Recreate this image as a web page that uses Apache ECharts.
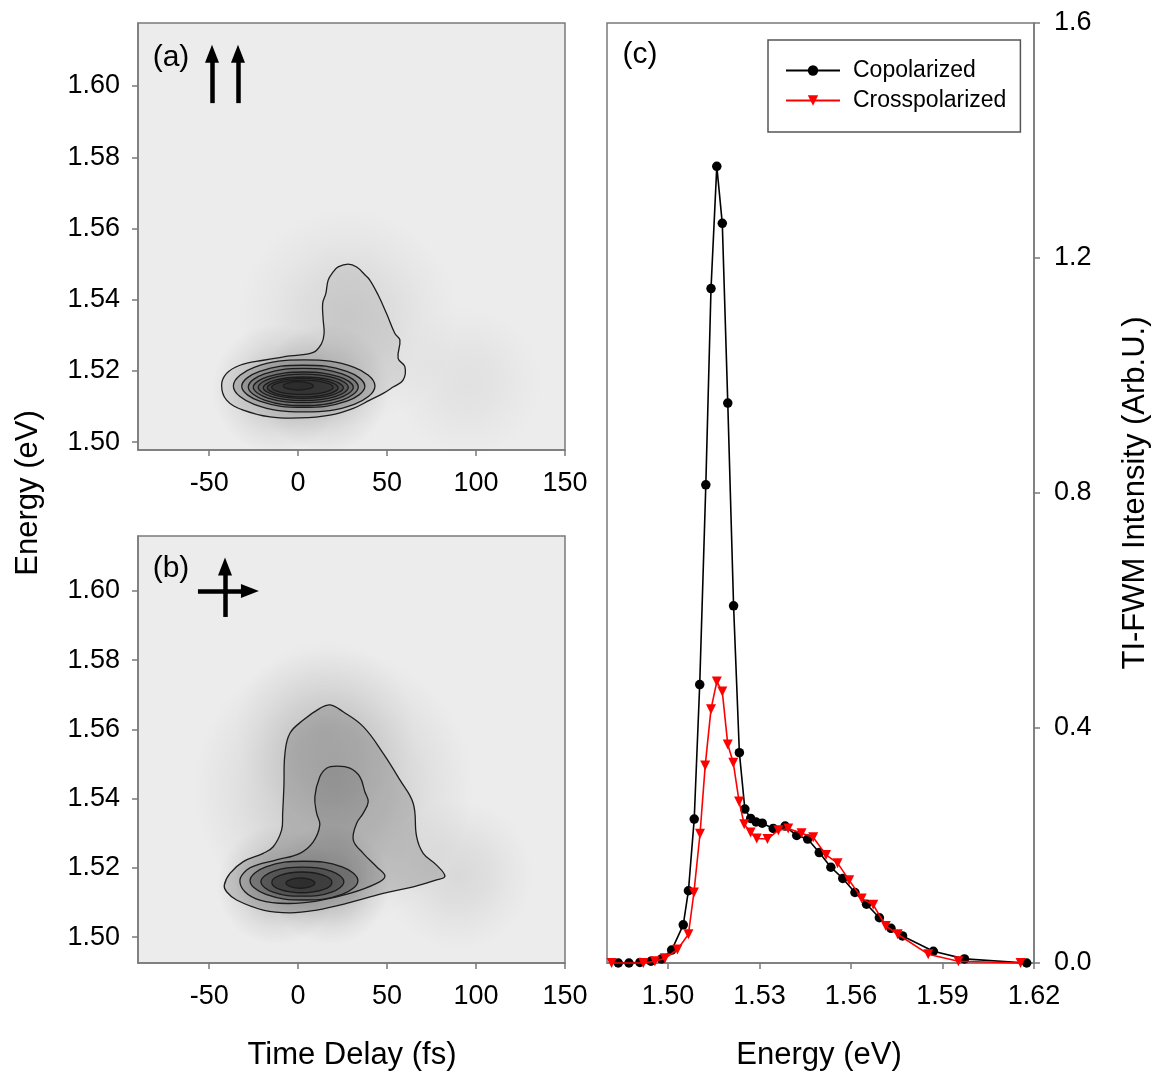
<!DOCTYPE html>
<html><head><meta charset="utf-8">
<script src="https://cdn.jsdelivr.net/npm/echarts@6/dist/echarts.min.js"></script>
<style>html,body{margin:0;padding:0;background:#fff}#c{width:1160px;height:1074px}</style>
</head><body><div id="c"></div>
<script>
// ---------- tick labels ----------
const timeTicks = [-50, 0, 50, 100, 150];
const energyTicks = [1.50, 1.52, 1.54, 1.56, 1.58, 1.60];
const specTicks = [1.50, 1.53, 1.56, 1.59, 1.62];
const intensityTicks = [0, 0.4, 0.8, 1.2, 1.6];

// ---------- panel (c) spectra ----------
const coEnergy = [1.4837,1.4872,1.4908,1.4944,1.4979,1.5012,1.5050,1.5067,1.5086,1.5104,1.5124,1.5141,1.5160,1.5178,1.5196,1.5215,1.5234,1.5252,1.5271,1.5289,1.5309,1.5345,1.5384,1.5422,1.5458,1.5496,1.5534,1.5573,1.5613,1.5651,1.5693,1.5731,1.5769,1.5870,1.5972,1.6176];
const coIntensity = [0,0,0.001,0.003,0.007,0.022,0.065,0.123,0.245,0.474,0.814,1.148,1.356,1.259,0.953,0.608,0.358,0.262,0.246,0.240,0.238,0.229,0.233,0.217,0.211,0.188,0.163,0.144,0.120,0.100,0.077,0.059,0.046,0.020,0.007,0.0];
const crEnergy = [1.4815,1.4919,1.4957,1.4990,1.5031,1.5067,1.5085,1.5105,1.5122,1.5141,1.5160,1.5178,1.5196,1.5214,1.5233,1.5250,1.5271,1.5291,1.5326,1.5362,1.5394,1.5438,1.5476,1.5518,1.5556,1.5594,1.5635,1.5673,1.5714,1.5753,1.5853,1.5952,1.6156];
const crIntensity = [0,0,0.003,0.008,0.023,0.049,0.120,0.220,0.336,0.432,0.479,0.462,0.372,0.341,0.275,0.236,0.222,0.212,0.211,0.226,0.229,0.221,0.214,0.184,0.170,0.141,0.110,0.099,0.063,0.049,0.015,0.003,0];

// ---------- panel (a) contours: [time (fs), energy (eV)] ----------
const aOuter = [[-43.0,1.5160],[-40.2,1.5193],[-32.7,1.5216],[-19.6,1.5230],[-4.6,1.5242],[8.5,1.5252],[13.2,1.5277],[14.6,1.5305],[14.1,1.5343],[13.8,1.5390],[15.6,1.5418],[16.9,1.5455],[19.7,1.5478],[22.5,1.5492],[28.1,1.5500],[32.9,1.5492],[37.5,1.5470],[40.3,1.5455],[45.0,1.5413],[49.7,1.5361],[54.4,1.5305],[57.2,1.5287],[56.2,1.5235],[60.0,1.5212],[59.0,1.5174],[53.4,1.5155],[47.8,1.5137],[40.3,1.5118],[31.0,1.5095],[17.9,1.5076],[1.0,1.5068],[-15.8,1.5071],[-30.8,1.5090],[-40.2,1.5118]];
const aRing1 = [[-36.4,1.5158],[-24.7,1.5210],[3.4,1.5231],[31.5,1.5210],[43.2,1.5158],[31.5,1.5106],[3.4,1.5085],[-24.7,1.5106]];
const aRing2 = [[-31.7,1.5157],[-21.6,1.5199],[2.9,1.5216],[27.4,1.5199],[37.5,1.5157],[27.4,1.5115],[2.9,1.5098],[-21.6,1.5115]];
const aRing3 = [[-28.0,1.5155],[-18.9,1.5192],[2.9,1.5207],[24.7,1.5192],[33.8,1.5155],[24.7,1.5118],[2.9,1.5103],[-18.9,1.5118]];
const aRing4 = [[-25.2,1.5154],[-17.0,1.5184],[2.9,1.5197],[22.8,1.5184],[31.0,1.5154],[22.8,1.5124],[2.9,1.5111],[-17.0,1.5124]];
const aRing5 = [[-22.4,1.5154],[-15.0,1.5180],[2.9,1.5191],[20.8,1.5180],[28.2,1.5154],[20.8,1.5128],[2.9,1.5117],[-15.0,1.5128]];
const aRing6 = [[-19.6,1.5153],[-13.0,1.5174],[2.9,1.5183],[18.8,1.5174],[25.4,1.5153],[18.8,1.5132],[2.9,1.5123],[-13.0,1.5132]];
const aRing7 = [[-17.3,1.5153],[-11.5,1.5171],[2.6,1.5179],[16.7,1.5171],[22.5,1.5153],[16.7,1.5135],[2.6,1.5127],[-11.5,1.5135]];
const aRing8 = [[-14.9,1.5154],[-9.8,1.5168],[2.4,1.5174],[14.6,1.5168],[19.7,1.5154],[14.6,1.5140],[2.4,1.5134],[-9.8,1.5140]];
const aRing9 = [[-8.3,1.5158],[-5.8,1.5166],[0.1,1.5170],[6.0,1.5166],[8.5,1.5158],[6.0,1.5150],[0.1,1.5146],[-5.8,1.5150]];

// ---------- panel (b) contours ----------
const bOuter = [[-41.5,1.5150],[-38.3,1.5184],[-30.8,1.5218],[-19.6,1.5242],[-14.0,1.5261],[-9.3,1.5309],[-8.7,1.5357],[-8.0,1.5434],[-7.4,1.5531],[-4.6,1.5589],[2.9,1.5627],[12.2,1.5661],[17.9,1.5671],[25.3,1.5651],[36.6,1.5608],[47.8,1.5531],[57.2,1.5454],[64.7,1.5386],[66.6,1.5290],[70.3,1.5242],[77.8,1.5208],[82.5,1.5176],[77.8,1.5165],[64.7,1.5145],[47.8,1.5126],[27.2,1.5097],[10.4,1.5078],[-4.6,1.5070],[-19.6,1.5078],[-34.6,1.5107],[-40.2,1.5131]];
const bKey = [[-32.7,1.5165],[-28.9,1.5194],[-23.3,1.5208],[-12.1,1.5223],[1.0,1.5242],[8.5,1.5275],[12.2,1.5324],[10.4,1.5358],[9.4,1.5405],[12.2,1.5463],[16.0,1.5488],[21.6,1.5494],[29.1,1.5488],[34.7,1.5463],[37.5,1.5420],[39.4,1.5391],[36.6,1.5358],[32.9,1.5329],[31.0,1.5280],[36.6,1.5242],[44.1,1.5203],[48.8,1.5176],[44.1,1.5155],[29.1,1.5126],[10.4,1.5104],[-6.5,1.5097],[-21.5,1.5107],[-29.9,1.5131]];
const bRing1 = [[-27.0,1.5163],[-18.1,1.5203],[3.3,1.5219],[24.7,1.5203],[33.6,1.5163],[24.7,1.5123],[3.3,1.5107],[-18.1,1.5123]];
const bRing2 = [[-20.9,1.5160],[-14.1,1.5190],[2.4,1.5202],[18.9,1.5190],[25.7,1.5160],[18.9,1.5130],[2.4,1.5118],[-14.1,1.5130]];
const bRing3 = [[-14.8,1.5158],[-9.8,1.5179],[2.1,1.5188],[14.0,1.5179],[19.0,1.5158],[14.0,1.5137],[2.1,1.5128],[-9.8,1.5137]];
const bRing4 = [[-6.8,1.5156],[-4.4,1.5166],[1.3,1.5171],[7.0,1.5166],[9.4,1.5156],[7.0,1.5146],[1.3,1.5141],[-4.4,1.5146]];

// ---------- diffuse intensity centres (time, energy) ----------
const aGlow = [[28,1.535],[-12,1.5150],[15,1.5150],[95,1.517]];
const bGlow = [[20,1.543],[15,1.560],[-12,1.515],[18,1.515],[90,1.518]];

// ---------- polarization arrows ----------
const aArrows = [[[-48.4,1.5952],[-48.4,1.6091]],[[-33.8,1.5952],[-33.8,1.6091]]];
const bArrows = [[[-41.1,1.5925],[-41.1,1.6071]],[[-56.3,1.6000],[-27.1,1.6000]]];

// ---------- styles ----------
const FONT = '"Liberation Sans", Arial, sans-serif';
const AX = '#7a7a7a';
const aGlowSize = [220,130,130,150], aGlowAlpha = [0.11,0.22,0.22,0.06];
const bGlowSize = [280,180,120,120,150], bGlowAlpha = [0.2,0.1,0.25,0.25,0.1];
const aFill = [0.07,0.13,0.13,0.13,0.13,0.13,0.13,0.13,0.13,0.14];
const bFill = [0.15,0.10,0.22,0.22,0.22,0.24];

const contoursA = [aOuter,aRing1,aRing2,aRing3,aRing4,aRing5,aRing6,aRing7,aRing8,aRing9];
const contoursB = [bOuter,bKey,bRing1,bRing2,bRing3,bRing4];

function glowSeries(centres, sizes, alphas, arrows, idx){
  return {
    type:'scatter', xAxisIndex:idx, yAxisIndex:idx, z:1, silent:true, animation:false,
    data: centres.map((c,i)=>({value:c, symbolSize:sizes[i], itemStyle:{color:{type:'radial',x:0.5,y:0.5,r:0.5,colorStops:[
      {offset:0,color:`rgba(0,0,0,${alphas[i]})`},
      {offset:0.4,color:`rgba(0,0,0,${alphas[i]*0.7})`},
      {offset:0.7,color:`rgba(0,0,0,${alphas[i]*0.3})`},
      {offset:1,color:'rgba(0,0,0,0)'}]}}})),
    markLine:{silent:true, animation:false, symbol:['none','triangle'], symbolSize:[14,18],
      lineStyle:{color:'#000', width:4.5, type:'solid'}, label:{show:false},
      emphasis:{disabled:true},
      data: arrows.map(a=>[{coord:a[0]},{coord:a[1]}])}
  };
}
function contourSeries(contours, fills, idx){
  return {
    type:'custom', coordinateSystem:'cartesian2d', xAxisIndex:idx, yAxisIndex:idx, z:3,
    silent:true, animation:false,
    data: contours.map((c,i)=>[c[0][0], c[0][1]]),
    encode:{x:0,y:1},
    renderItem(params, api){
      const pts = contours[params.dataIndex].map(p=>api.coord(p));
      return {type:'polygon', shape:{points:pts, smooth:0.4},
        style:{fill:`rgba(0,0,0,${fills[params.dataIndex]})`, stroke:'#1c1c1c', lineWidth:1.3}};
    }
  };
}
function mapAxisX(idx){
  return {gridIndex:idx, type:'value', min:-90, max:150,
    axisLine:{show:true, onZero:false, lineStyle:{color:AX, width:1.5}},
    axisTick:{show:true, length:6, customValues:timeTicks, lineStyle:{color:AX, width:1.5}},
    axisLabel:{customValues:timeTicks, color:'#000', fontSize:27, fontFamily:FONT, margin:20},
    splitLine:{show:false}};
}
function mapAxisY(idx, mn, mx){
  return {gridIndex:idx, type:'value', min:mn, max:mx,
    axisLine:{show:true, onZero:false, lineStyle:{color:AX, width:1.5}},
    axisTick:{show:true, length:6, customValues:energyTicks, lineStyle:{color:AX, width:1.5}},
    axisLabel:{customValues:energyTicks, color:'#000', fontSize:27, fontFamily:FONT, margin:18,
      formatter:v=>v.toFixed(2)},
    splitLine:{show:false}};
}
function txt(text, x, y, size, rot){
  return {type:'text', x, y, rotation:rot||0, silent:true,
    style:{text, font:`${size}px ${FONT}`, fill:'#000', align:'center', verticalAlign:'middle'}};
}

const chart = echarts.init(document.getElementById('c'), null, {renderer:'canvas'});
chart.setOption({
  animation:false,
  backgroundColor:'#fff',
  grid:[
    {left:138, top:23, width:427, height:427, show:true, backgroundColor:'#ececec', borderColor:AX, borderWidth:1.5},
    {left:138, top:536, width:427, height:427, show:true, backgroundColor:'#ececec', borderColor:AX, borderWidth:1.5},
    {left:607, top:23, width:427, height:940, show:true, backgroundColor:'#fff', borderColor:AX, borderWidth:1.5}
  ],
  xAxis:[
    mapAxisX(0), mapAxisX(1),
    {gridIndex:2, type:'value', min:1.48, max:1.62,
      axisLine:{show:true, onZero:false, lineStyle:{color:AX, width:1.5}},
      axisTick:{show:true, length:6, customValues:specTicks, lineStyle:{color:AX, width:1.5}},
      axisLabel:{customValues:specTicks, color:'#000', fontSize:27, fontFamily:FONT, margin:20, formatter:v=>v.toFixed(2)},
      splitLine:{show:false}}
  ],
  yAxis:[
    mapAxisY(0, 1.4978, 1.6177), mapAxisY(1, 1.4925, 1.6159),
    {gridIndex:2, type:'value', position:'right', min:0, max:1.6, interval:0.4,
      axisLine:{show:true, onZero:false, lineStyle:{color:AX, width:1.5}},
      axisTick:{show:true, length:6, lineStyle:{color:AX, width:1.5}},
      axisLabel:{color:'#000', fontSize:27, fontFamily:FONT, margin:20, formatter:v=>v.toFixed(1)},
      splitLine:{show:false}}
  ],
  legend:{
    data:['Copolarized','Crosspolarized'], orient:'vertical', left:768, top:40,
    padding:[19,14,20,17], itemGap:7, itemWidth:54, itemHeight:13,
    backgroundColor:'#fff', borderColor:'#555', borderWidth:1.5,
    textStyle:{fontFamily:FONT, fontSize:23, color:'#000', padding:[0,0,0,8]},
    selectedMode:false
  },
  graphic:[
    txt('(a)', 171, 58, 30), txt('(b)', 171, 569, 30), txt('(c)', 640, 55, 30),
    txt('Energy (eV)', 28, 493, 31, Math.PI/2),
    txt('Time Delay (fs)', 352, 1055, 31),
    txt('Energy (eV)', 819, 1055, 31),
    txt('TI-FWM Intensity (Arb.U.)', 1135, 493, 31, Math.PI/2)
  ],
  series:[
    glowSeries(aGlow, aGlowSize, aGlowAlpha, aArrows, 0),
    contourSeries(contoursA, aFill, 0),
    glowSeries(bGlow, bGlowSize, bGlowAlpha, bArrows, 1),
    contourSeries(contoursB, bFill, 1),
    {name:'Copolarized', type:'line', xAxisIndex:2, yAxisIndex:2, z:4, clip:false,
      data: coEnergy.map((e,i)=>[e, coIntensity[i]]),
      symbol:'circle', symbolSize:9.5, color:'#000',
      itemStyle:{color:'#000'}, lineStyle:{color:'#000', width:1.6}},
    {name:'Crosspolarized', type:'line', xAxisIndex:2, yAxisIndex:2, z:5, clip:false,
      data: crEnergy.map((e,i)=>[e, crIntensity[i]]),
      symbol:'triangle', symbolRotate:180, symbolSize:10, color:'#ff0000',
      itemStyle:{color:'#ff0000'}, lineStyle:{color:'#ff0000', width:1.6}}
  ]
});
</script></body></html>
